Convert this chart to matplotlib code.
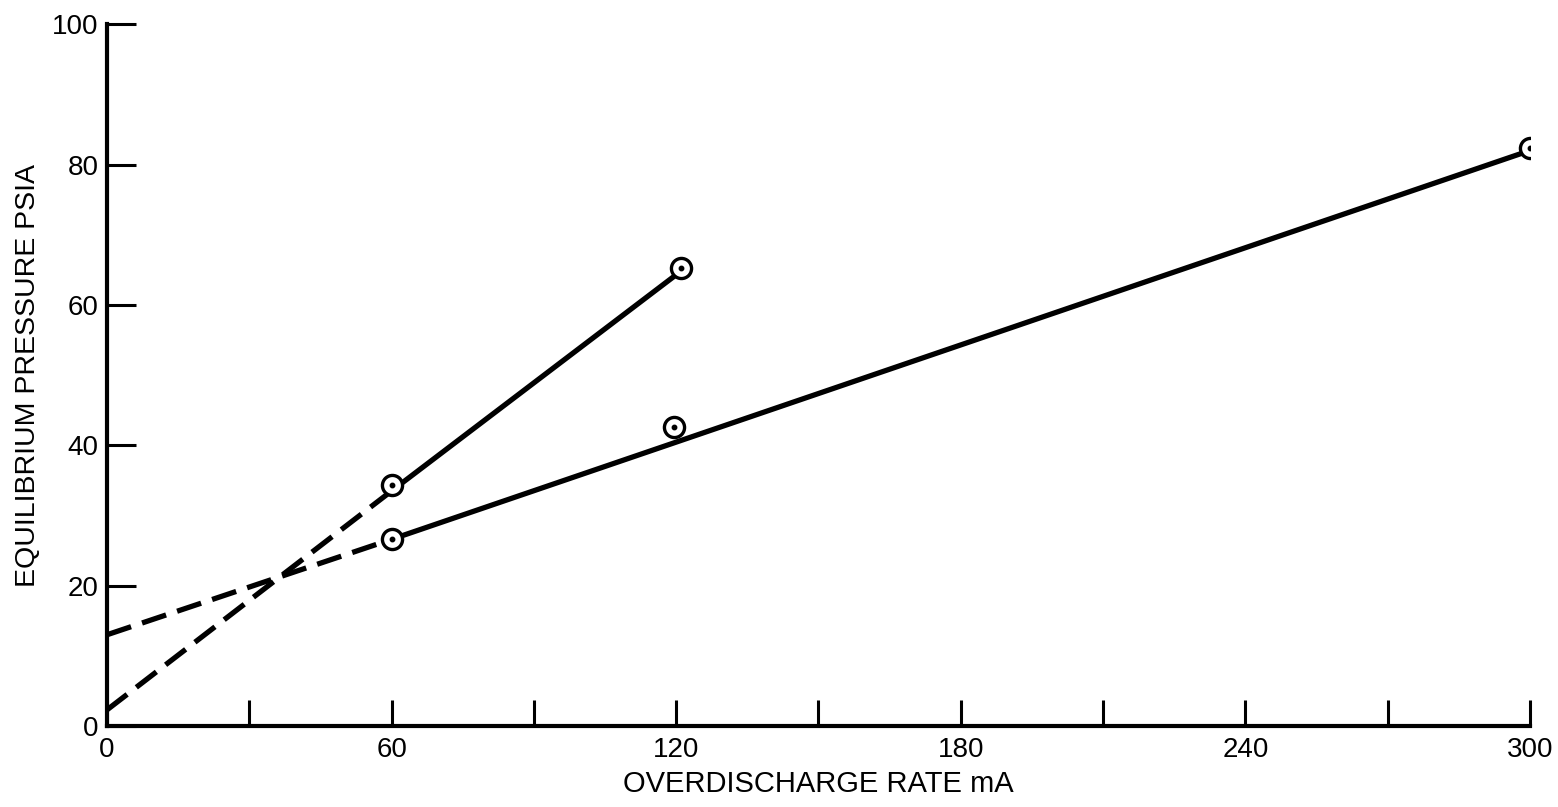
import matplotlib.pyplot as plt
import numpy as np

plt.rcParams['font.family'] = ['Liberation Sans', 'DejaVu Sans']

# measured points
pts_a_x = [60, 121]
pts_a_y = [34.3, 65.2]
pts_b_x = [60, 119.5, 300]
pts_b_y = [26.6, 42.6, 82.3]

# fitted lines (solid part and dashed extrapolation)
line_a_x = [60, 120]
line_a_y = [33.5, 64.3]
ext_a_x = [0, 60]
ext_a_y = [2.3, 33.5]
line_b_x = [60, 300]
line_b_y = [26.6, 82.0]
ext_b_x = [0, 60]
ext_b_y = [13.0, 26.6]

xticks_major = [0, 60, 120, 180, 240, 300]
xticks_minor = [30, 90, 150, 210, 270]
yticks = [0, 20, 40, 60, 80, 100]

fig = plt.figure(figsize=(15.58, 8.07), dpi=100)
ax = fig.add_axes([0.0687, 0.1004, 0.9133, 0.8696])

lw = 3.8
ax.plot(line_a_x, line_a_y, 'k-', lw=lw, solid_capstyle='butt')
ax.plot(line_b_x, line_b_y, 'k-', lw=lw, solid_capstyle='butt')
ax.plot(ext_a_x, ext_a_y, 'k-', lw=lw, dashes=(4.8, 2.2))
ax.plot(ext_b_x, ext_b_y, 'k-', lw=lw, dashes=(4.8, 2.2))

for xs, ys in [(pts_a_x, pts_a_y), (pts_b_x, pts_b_y)]:
    ax.plot(xs, ys, 'o', ms=14.5, mfc='white', mec='black', mew=2.4, zorder=5)
    ax.plot(xs, ys, 'o', ms=3.2, mfc='black', mec='black', zorder=6)

ax.set_xlim(0, 300)
ax.set_ylim(0, 100)
ax.spines['top'].set_visible(False)
ax.spines['right'].set_visible(False)
ax.spines['left'].set_linewidth(3)
ax.spines['bottom'].set_linewidth(3)

ax.set_xticks(xticks_major)
ax.set_xticks(xticks_minor, minor=True)
ax.set_yticks(yticks)
ax.tick_params(axis='both', which='both', direction='in', width=2.2, labelsize=20)
ax.tick_params(axis='x', which='both', length=19, pad=8)
ax.tick_params(axis='y', length=21, pad=6)

ax.set_xlabel('OVERDISCHARGE RATE mA', fontsize=21, labelpad=5)
ax.set_ylabel('EQUILIBRIUM PRESSURE PSIA', fontsize=20.5, labelpad=8)

plt.savefig('out.png', dpi=100)
